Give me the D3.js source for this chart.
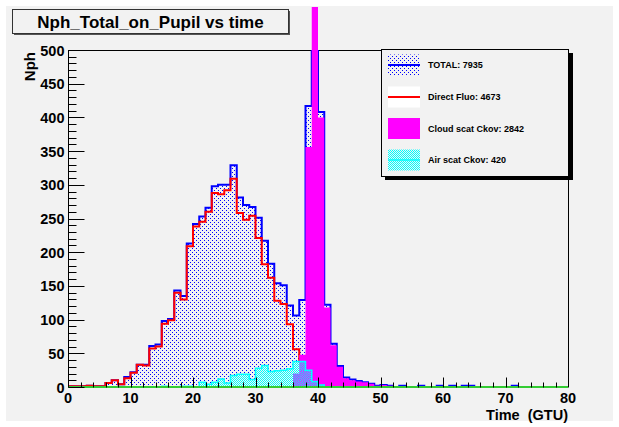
<!DOCTYPE html>
<html><head><meta charset="utf-8">
<script src="https://cdn.jsdelivr.net/npm/d3@7"></script>
<style>body{margin:0;background:#fff}svg{display:block}text{font-family:"Liberation Sans",Arial,Helvetica,sans-serif;font-weight:bold}</style>
</head><body>
<script>
// ---- data (bins of 1 GTU, 0..80) ----
const binEdges = d3.range(0, 81);
const totalVals = [1,1,1,2,1,1,6,10,4,15, 22,33,33,61,63,98,101,143,135,213, 242,253,266,298,300,300,329,281,270,267, 251,217,183,154,151,121,106,129,417,1790, 408,122,64,31,14,11,9,7,5,2, 3,2,0,2,0,0,2,0,0,2, 0,2,0,2,2,0,0,0,0,0, 0,2,0,0,0,0,0,0,0,0];
const fluoVals  = [1,1,1,2,1,1,6,10,4,13, 21,33,32,57,60,94,99,140,130,209, 238,245,260,288,286,292,309,258,248,254, 221,182,162,128,123,93,56,40,35,20, 5,3,1,0,0,0,0,0,0,0, 0,0,0,0,0,0,0,0,0,0, 0,0,0,0,0,0,0,0,0,0, 0,0,0,0,0,0,0,0,0,0];
const cloudVals = [0,0,0,0,0,0,0,0,0,0, 0,0,0,0,0,0,0,0,0,0, 0,0,0,0,0,0,0,0,0,0, 0,0,0,0,0,0,20,48,356,1760, 400,118,62,30,13,10,8,7,5,2, 3,2,0,0,0,0,0,0,0,0, 0,0,0,0,0,0,0,0,0,0, 0,0,0,0,0,0,0,0,0,0];
const airVals   = [0,0,0,0,0,0,0,0,0,0, 0,0,0,0,0,1,0,0,1,1, 0,7,4,7,12,6,17,19,19,11, 28,32,23,24,25,27,38,38,25,8, 3,0,0,0,0,0,0,0,0,0, 0,0,0,0,0,0,0,0,0,0, 0,0,0,0,0,0,0,0,0,0, 0,0,0,0,0,0,0,0,0,0];
const xTicks = [0,10,20,30,40,50,60,70,80];
const yTicks = [0,50,100,150,200,250,300,350,400,450,500];
const legendLabels = ["TOTAL: 7935","Direct Fluo: 4673","Cloud scat Ckov: 2842","Air scat Ckov: 420"];
const titleText = "Nph_Total_on_Pupil vs time";

const W=619, H=427;
const svg = d3.select("body").append("svg").attr("width",W).attr("height",H);
const defs = svg.append("defs");
// patterns
const pb = defs.append("pattern").attr("id","blueDots").attr("patternUnits","userSpaceOnUse").attr("width",4).attr("height",4);
pb.append("rect").attr("x",0).attr("y",0).attr("width",1).attr("height",1).attr("fill","#0000ff");
pb.append("rect").attr("x",2).attr("y",2).attr("width",1).attr("height",1).attr("fill","#0000ff");
const pc = defs.append("pattern").attr("id","cyanChk").attr("patternUnits","userSpaceOnUse").attr("width",2).attr("height",2);
pc.append("rect").attr("x",0).attr("y",0).attr("width",1).attr("height",1).attr("fill","#00ffff");
pc.append("rect").attr("x",1).attr("y",1).attr("width",1).attr("height",1).attr("fill","#00ffff");

const L=68, R=568, T=50, B=387;
defs.append("clipPath").attr("id","frameClip").append("rect").attr("x",L).attr("y",T).attr("width",R-L).attr("height",B-T+2);
defs.append("clipPath").attr("id","padClip").append("rect").attr("x",L).attr("y",7).attr("width",R-L).attr("height",B-7+2);

svg.append("rect").attr("x",6).attr("y",6).attr("width",607).attr("height",415).attr("fill","#f2f2f2");

const x = d3.scaleLinear().domain([0,80]).range([L,R]);
const y = d3.scaleLinear().domain([0,500]).range([B,T]);

// frame top & right
svg.append("path").attr("d",`M${L},${T+0.5}H${R+0.5}V${B}`).attr("fill","none").attr("stroke","#000").attr("stroke-width",1);

function pts(vals){ const p = vals.map((v,i)=>({t:binEdges[i],v})); p.push({t:binEdges[80],v:vals[79]}); return p; }
const area = d3.area().curve(d3.curveStepAfter).x(d=>x(d.t)).y0(y(0)).y1(d=>y(d.v));
const line = d3.line().curve(d3.curveStepAfter).x(d=>x(d.t)).y(d=>y(d.v));

const gTot = svg.append("g").attr("clip-path","url(#frameClip)");
gTot.append("path").attr("d",area(pts(totalVals))).attr("fill","url(#blueDots)");
gTot.append("path").attr("d",line(pts(totalVals))).attr("fill","none").attr("stroke","#0000ff").attr("stroke-width",2);

const gRed = svg.append("g").attr("clip-path","url(#frameClip)");
gRed.append("path").attr("d",line(pts(fluoVals))).attr("fill","none").attr("stroke","#ff0000").attr("stroke-width",2);

const gMag = svg.append("g").attr("clip-path","url(#padClip)");
gMag.append("path").attr("d",area(pts(cloudVals))).attr("fill","#ff00ff");

const gAir = svg.append("g").attr("clip-path","url(#frameClip)");
gAir.append("path").attr("d",area(pts(airVals))).attr("fill","url(#cyanChk)");
gAir.append("path").attr("d",line(pts(airVals))).attr("fill","none").attr("stroke","#00ffff").attr("stroke-width",1.5);

// green zero line
svg.append("line").attr("x1",L).attr("x2",R).attr("y1",B).attr("y2",B).attr("stroke","#33cc33").attr("stroke-width",2);

// axes
const gy = svg.append("g").attr("transform",`translate(${L+0.5},0)`);
gy.append("line").attr("y1",T).attr("y2",B).attr("stroke","#000");
const yMinor = d3.range(0,501,10);
gy.selectAll(".ym").data(yMinor).join("line").attr("x1",0).attr("x2",d=>d%50===0?16:8)
  .attr("y1",d=>Math.round(y(d))+0.5).attr("y2",d=>Math.round(y(d))+0.5).attr("stroke","#000");
gy.selectAll(".yl").data(yTicks).join("text").attr("x",-4).attr("y",d=>y(d)+5.5)
  .attr("text-anchor","end").attr("font-size","14.5px").attr("fill","#000").text(d=>d);

const gx = svg.append("g").attr("transform",`translate(0,${B+0.5})`);
const xMinor = d3.range(0,81,2);
gx.selectAll(".xm").data(xMinor).join("line").attr("y1",0).attr("y2",d=>d%10===0?-10:-5)
  .attr("x1",d=>Math.round(x(d))+0.5).attr("x2",d=>Math.round(x(d))+0.5).attr("stroke","#000");
gx.selectAll(".xl").data(xTicks).join("text").attr("x",d=>x(d)).attr("y",15)
  .attr("text-anchor","middle").attr("font-size","14.5px").attr("fill","#000").text(d=>d);

// axis titles
svg.append("text").attr("x",R).attr("y",419.5).attr("text-anchor","end").attr("font-size","14.5px")
  .attr("xml:space","preserve").style("white-space","pre").text("Time  (GTU)");
svg.append("text").attr("transform",`translate(35,52) rotate(-90)`).attr("text-anchor","end").attr("font-size","15px").text("Nph");

// title box
svg.append("rect").attr("x",14).attr("y",11).attr("width",276).attr("height",24).attr("fill","#555");
svg.append("rect").attr("x",12.5).attr("y",9.5).attr("width",276).attr("height",24).attr("fill","#f2f2f2").attr("stroke","#333");
svg.append("text").attr("x",150.5).attr("y",27.5).attr("text-anchor","middle").attr("font-size","17px").text(titleText);

// legend
const lg = svg.append("g");
lg.append("rect").attr("x",385).attr("y",53).attr("width",188).attr("height",127).attr("fill","#000");
lg.append("rect").attr("x",381.5).attr("y",49.5).attr("width",187).attr("height",127).attr("fill","#f2f2f2").attr("stroke","#000");
const rows = [65,97,128.5,160];
const sx=388, sw=32, sh=21;
lg.append("rect").attr("x",sx).attr("y",rows[0]-sh/2).attr("width",sw).attr("height",sh).attr("fill","url(#blueDots)");
lg.append("line").attr("x1",sx).attr("x2",sx+sw).attr("y1",rows[0]).attr("y2",rows[0]).attr("stroke","#0000ff").attr("stroke-width",2);
lg.append("rect").attr("x",sx).attr("y",rows[1]-sh/2).attr("width",sw).attr("height",sh).attr("fill","#fff");
lg.append("line").attr("x1",sx).attr("x2",sx+sw).attr("y1",rows[1]).attr("y2",rows[1]).attr("stroke","#ff0000").attr("stroke-width",2);
lg.append("rect").attr("x",sx).attr("y",rows[2]-sh/2).attr("width",sw).attr("height",sh).attr("fill","#ff00ff");
lg.append("rect").attr("x",sx).attr("y",rows[3]-sh/2).attr("width",sw).attr("height",sh).attr("fill","url(#cyanChk)");
lg.append("line").attr("x1",sx).attr("x2",sx+sw).attr("y1",rows[3]).attr("y2",rows[3]).attr("stroke","#00ffff").attr("stroke-width",1.5);
lg.selectAll(".lt").data(legendLabels).join("text").attr("x",428).attr("y",(d,i)=>rows[i]+3.3)
  .attr("font-size","9px").text(d=>d);
</script>
</body></html>
